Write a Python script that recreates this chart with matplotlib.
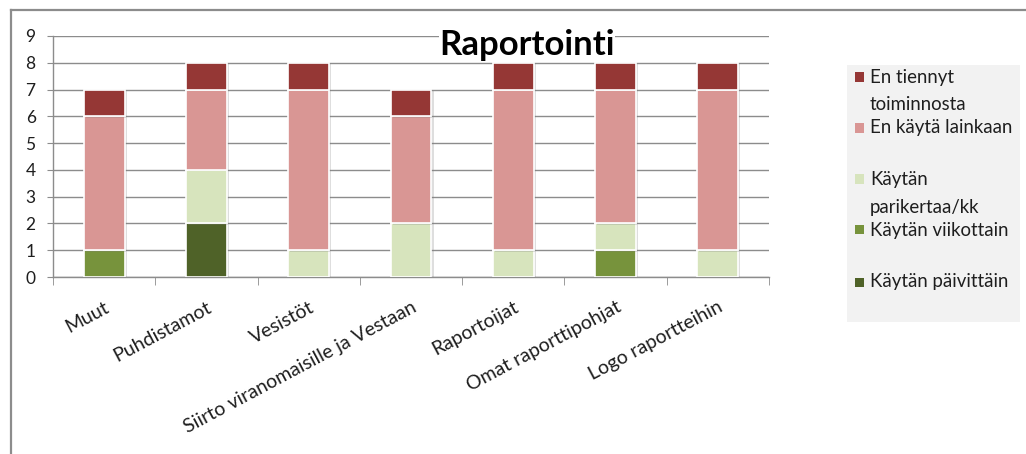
import numpy as np
import matplotlib.pyplot as plt
from matplotlib.patches import Rectangle
from matplotlib.lines import Line2D
import matplotlib.patheffects as pe

plt.rcParams['font.family'] = ['Lato', 'DejaVu Sans']

categories = ['Muut', 'Puhdistamot', 'Vesistöt', 'Siirto viranomaisille ja Vestaan',
              'Raportoijat', 'Omat raporttipohjat', 'Logo raportteihin']

# answer counts per category, stacked bottom to top
paivittain = [0, 2, 0, 0, 0, 0, 0]
viikottain = [1, 0, 0, 0, 0, 1, 0]
parikertaa = [0, 2, 1, 2, 1, 1, 1]
ei_lainkaan = [5, 3, 6, 4, 6, 5, 6]
ei_tiennyt = [1, 1, 1, 1, 1, 1, 1]

series = [paivittain, viikottain, parikertaa, ei_lainkaan, ei_tiennyt]
series_labels = ['Käytän päivittäin', 'Käytän viikottain', 'Käytän\nparikertaa/kk',
                 'En käytä lainkaan', 'En tiennyt\ntoiminnosta']
colors = ['#4F6228', '#77933C', '#D7E4BD', '#D99694', '#953735']

W, H = 1026, 454
GRAY = '#8C8C8C'
TEXT = '#1E1E1E'


def fx(px):
    return px / W


def fy(py):
    return 1 - py / H


fig = plt.figure(figsize=(W / 100, H / 100), dpi=100)

# chart frame (only the top and left edges are in view)
fig.add_artist(Line2D([fx(11), fx(11)], [fy(10), 0], transform=fig.transFigure,
                      color=GRAY, lw=1.6))
fig.add_artist(Line2D([fx(11), 1], [fy(10), fy(10)], transform=fig.transFigure,
                      color=GRAY, lw=1.6))

ax = fig.add_axes([fx(53), fy(277), fx(769 - 53), (277 - 36) / H])

x = np.arange(len(categories))
bottom = np.zeros(len(categories))
shadow = [pe.SimplePatchShadow(offset=(1.5, -1.0), shadow_rgbFace='#7f7f7f', alpha=0.25),
          pe.Normal()]
for values, color in zip(series, colors):
    values = np.array(values, dtype=float)
    keep = values > 0
    bars = ax.bar(x[keep], values[keep], bottom=bottom[keep], width=0.4, color=color,
                  edgecolor='white', linewidth=1.2, zorder=3)
    for b in bars:
        b.set_path_effects(shadow)
    bottom += values

ax.set_xlim(-0.5, len(categories) - 0.5)
ax.set_ylim(0, 9)
ax.set_yticks(range(10))
ax.yaxis.grid(True, color=GRAY, lw=1.0)
ax.set_axisbelow(True)
ax.tick_params(axis='y', direction='out', length=4.5, color=GRAY, pad=8,
               labelsize=12.5, labelcolor=TEXT)

# category labels at the bar centres, tick marks between categories
ax.set_xticks(x)
ax.set_xticklabels(categories, rotation=28, ha='right', rotation_mode='anchor',
                   fontsize=14, color=TEXT)
ax.tick_params(axis='x', which='major', length=0, pad=15.5)
ax.set_xticks(np.arange(-0.5, len(categories)), minor=True)
ax.tick_params(axis='x', which='minor', direction='out', length=6, color=GRAY)

for side in ['top', 'right']:
    ax.spines[side].set_visible(False)
for side in ['left', 'bottom']:
    ax.spines[side].set_color(GRAY)
    ax.spines[side].set_linewidth(1.0)

fig.text(fx(527), fy(55), 'Raportointi', ha='center', va='baseline', fontsize=25,
         fontweight='bold', color='black', zorder=5,
         bbox=dict(facecolor='white', edgecolor='none', pad=0.5))

# legend box, top entry is the top of the stack
fig.add_artist(Rectangle((fx(847), fy(322)), fx(1020 - 847), (322 - 65) / H,
                         transform=fig.transFigure, facecolor='#F2F2F2', edgecolor='none'))
entry_y = [77, 128, 179, 230, 282]
for py, label, color in zip(entry_y, series_labels[::-1], colors[::-1]):
    fig.add_artist(Rectangle((fx(855), fy(py + 4.5)), fx(9), 9 / H,
                             transform=fig.transFigure, facecolor=color, edgecolor='none'))
    for k, line in enumerate(label.split('\n')):
        fig.text(fx(870), fy(py + 28 * k), line, ha='left', va='center',
                 fontsize=13.4, color=TEXT)

fig.savefig('out.png', dpi=100)
